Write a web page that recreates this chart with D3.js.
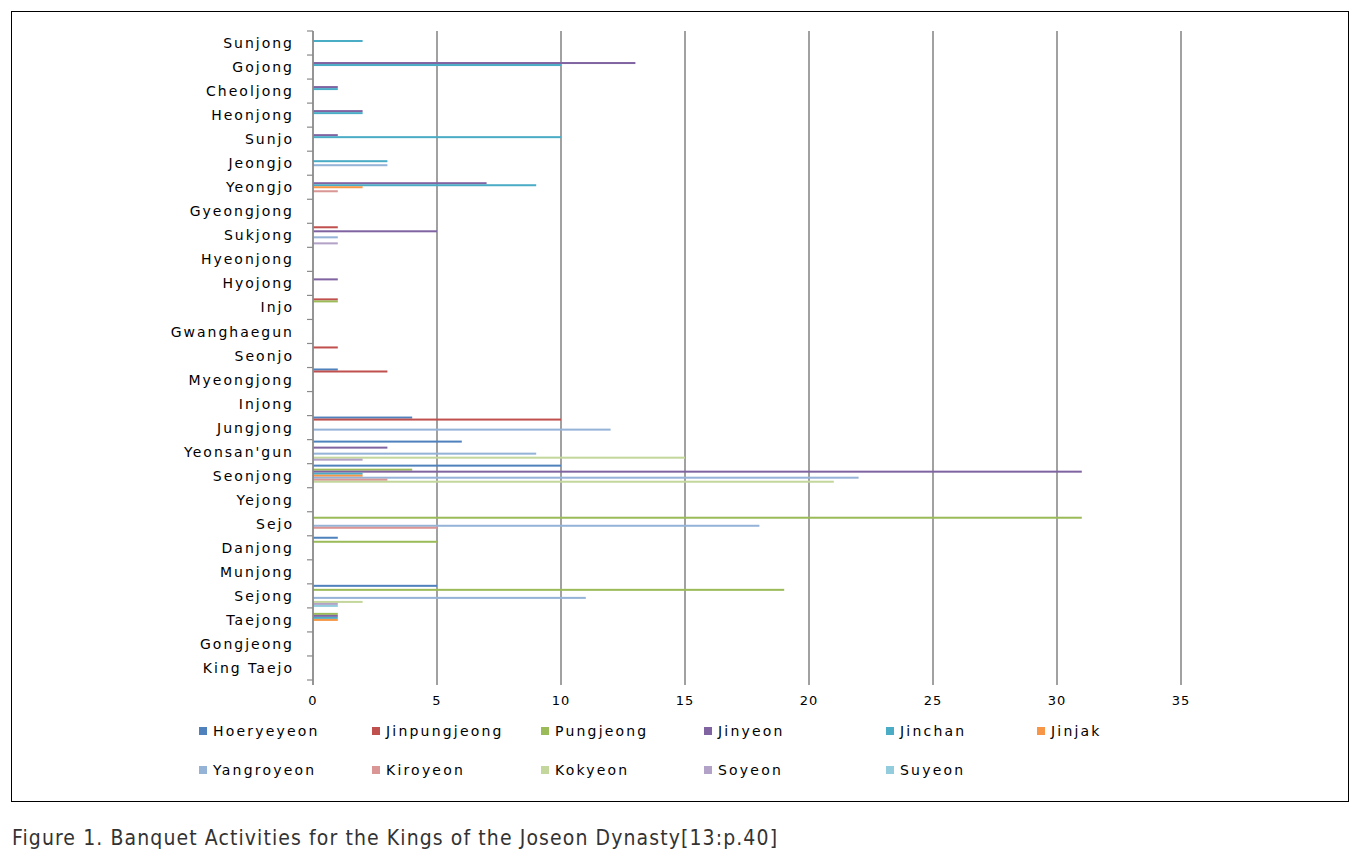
<!DOCTYPE html>
<html><head><meta charset="utf-8">
<script src="https://cdn.jsdelivr.net/npm/d3@7"></script>
<style>
html,body{margin:0;padding:0;background:#fff;}
svg{display:block;}
</style></head>
<body>
<svg id="chart" width="1369" height="856"></svg>
<script>
// Categories (bottom to top as in the chart)
const categories = ["King Taejo","Gongjeong","Taejong","Sejong","Munjong","Danjong","Sejo","Yejong","Seonjong","Yeonsan'gun","Jungjong","Injong","Myeongjong","Seonjo","Gwanghaegun","Injo","Hyojong","Hyeonjong","Sukjong","Gyeongjong","Yeongjo","Jeongjo","Sunjo","Heonjong","Cheoljong","Gojong","Sunjong"];
const seriesNames = ["Hoeryeyeon","Jinpungjeong","Pungjeong","Jinyeon","Jinchan","Jinjak","Yangroyeon","Kiroyeon","Kokyeon","Soyeon","Suyeon"];
const seriesColors = ["#4F81BD","#C0504D","#9BBB59","#8064A2","#4BACC6","#F79646","#95B3D7","#D99694","#C3D69B","#B3A2C7","#93CDDD"];
const hoeryeyeon   = [0,0,0,5,0,1,0,0,10,6,4,0,1,0,0,0,0,0,0,0,0,0,0,0,0,0,0];
const jinpungjeong = [0,0,0,0,0,0,0,0,0,0,10,0,3,1,0,1,0,0,1,0,0,0,0,0,0,0,0];
const pungjeong    = [0,0,1,19,0,5,31,0,4,0,0,0,0,0,0,1,0,0,0,0,0,0,0,0,0,0,0];
const jinyeon      = [0,0,1,0,0,0,0,0,31,3,0,0,0,0,0,0,1,0,5,0,7,0,1,2,1,13,0];
const jinchan      = [0,0,1,0,0,0,0,0,2,0,0,0,0,0,0,0,0,0,0,0,9,3,10,2,1,10,2];
const jinjak       = [0,0,1,0,0,0,0,0,2,0,0,0,0,0,0,0,0,0,0,0,2,0,0,0,0,0,0];
const yangroyeon   = [0,0,0,11,0,0,18,0,22,9,12,0,0,0,0,0,0,0,1,0,0,3,0,0,0,0,0];
const kiroyeon     = [0,0,0,0,0,0,5,0,3,0,0,0,0,0,0,0,0,0,0,0,1,0,0,0,0,0,0];
const kokyeon      = [0,0,0,2,0,0,0,0,21,15,0,0,0,0,0,0,0,0,0,0,0,0,0,0,0,0,0];
const soyeon       = [0,0,0,1,0,0,0,0,0,2,0,0,0,0,0,0,0,0,1,0,0,0,0,0,0,0,0];
const suyeon       = [0,0,0,1,0,0,0,0,0,0,0,0,0,0,0,0,0,0,0,0,0,0,0,0,0,0,0];
const xTicks = [0,5,10,15,20,25,30,35];
const caption = "Figure 1. Banquet Activities for the Kings of the Joseon Dynasty[13:p.40]";

const seriesValues = [hoeryeyeon,jinpungjeong,pungjeong,jinyeon,jinchan,jinjak,yangroyeon,kiroyeon,kokyeon,soyeon,suyeon];
const series = seriesNames.map((n,i)=>({name:n,color:seriesColors[i],values:seriesValues[i]}));

const svg = d3.select("#chart");
const L = 313, R = 1181, T = 31, B = 680;
const labelFont = "'DejaVu Sans', Verdana, sans-serif";

// outer frame
svg.append("rect").attr("x",11.5).attr("y",11.5).attr("width",1337).attr("height",790)
  .attr("fill","none").attr("stroke","#000").attr("stroke-width",1);

const x = d3.scaleLinear().domain([0,35]).range([L,R]);
const y = d3.scaleBand().domain(categories).range([B,T]).paddingInner(0.08).paddingOuter(0.04);
const ySub = d3.scaleBand().domain(seriesNames).range([0,y.bandwidth()]);

// grid lines
svg.append("g").selectAll("line").data(xTicks.slice(1)).join("line")
  .attr("x1",d=>x(d)).attr("x2",d=>x(d)).attr("y1",T).attr("y2",B+5)
  .attr("stroke","#8a8a8a").attr("stroke-width",1.6);

// bars
const gBars = svg.append("g");
series.forEach(s=>{
  gBars.append("g").selectAll("rect")
    .data(categories.map((c,i)=>({c,v:s.values[i]})).filter(d=>d.v>0))
    .join("rect")
    .attr("x",x(0))
    .attr("y",d=>y(d.c)+ySub(s.name))
    .attr("width",d=>x(d.v)-x(0))
    .attr("height",ySub.bandwidth())
    .attr("fill",s.color);
});

// y axis line + ticks
const yTickPos = d3.range(categories.length+1).map(i=>B - i*(B-T)/categories.length);
svg.append("line").attr("x1",L).attr("x2",L).attr("y1",T).attr("y2",B+5)
  .attr("stroke","#8a8a8a").attr("stroke-width",1.8);
svg.append("g").selectAll("line").data(yTickPos).join("line")
  .attr("x1",L-6).attr("x2",L).attr("y1",d=>d).attr("y2",d=>d)
  .attr("stroke","#8a8a8a").attr("stroke-width",1.2);

// y labels
svg.append("g").selectAll("text").data(categories).join("text")
  .attr("x",294).attr("y",d=>y(d)+y.bandwidth()/2)
  .attr("dy","0.36em").attr("text-anchor","end")
  .attr("font-family",labelFont).attr("font-size",14).attr("letter-spacing","2px")
  .attr("fill","#000").text(d=>d);

// x tick labels
svg.append("g").selectAll("text").data(xTicks).join("text")
  .attr("x",d=>x(d)).attr("y",705).attr("text-anchor","middle")
  .attr("font-family",labelFont).attr("font-size",13).attr("letter-spacing","1px")
  .attr("fill","#000").text(d=>d);

// legend
const legendCols = [199,372,541,704,886,1037];
const legendRows = [731,770];
const leg = svg.append("g");
series.forEach((s,i)=>{
  const row = i<6?0:1, col = i<6?i:i-6;
  const gx = legendCols[col], gy = legendRows[row];
  leg.append("rect").attr("x",gx).attr("y",gy-4).attr("width",8).attr("height",8).attr("fill",s.color);
  leg.append("text").attr("x",gx+14).attr("y",gy).attr("dy","0.36em")
    .attr("font-family",labelFont).attr("font-size",14).attr("letter-spacing","2.2px")
    .attr("fill","#000").text(s.name);
});

// caption
svg.append("text").attr("x",12).attr("y",845)
  .attr("font-family","'DejaVu Sans Condensed','Liberation Sans Narrow','Liberation Sans',sans-serif")
  .attr("font-stretch","condensed")
  .attr("font-size",21).attr("fill","#333")
  .attr("textLength",765).attr("lengthAdjust","spacing")
  .text(caption);
</script>
</body></html>
